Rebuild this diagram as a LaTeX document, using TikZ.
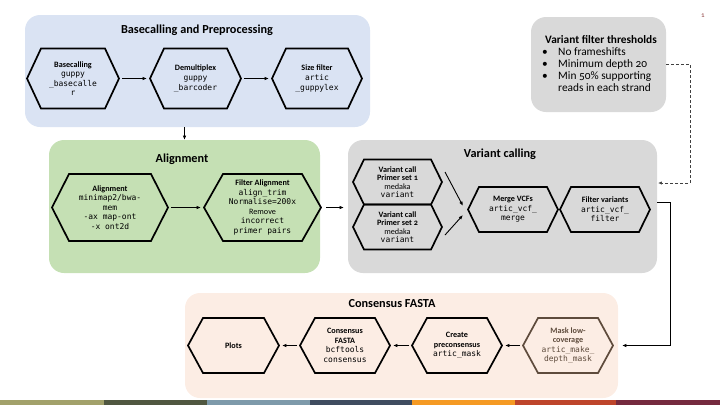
\documentclass[tikz,border=0pt]{standalone}
\usepackage{fontspec}
\setmainfont{Carlito}[Numbers=OldStyle]
\setmonofont{DejaVu Sans Mono}
\usetikzlibrary{arrows.meta,calc}
\definecolor{bluebg}{HTML}{DAE3F3}
\definecolor{greenbg}{HTML}{C5E0B4}
\definecolor{greybg}{HTML}{D9D9D9}
\definecolor{peachbg}{HTML}{FCEDE4}
\definecolor{maskline}{HTML}{5E4B3C}
\definecolor{pagenum}{HTML}{8C3B3B}
\definecolor{sa}{RGB}{162,161,106}
\definecolor{sb}{RGB}{80,87,64}
\definecolor{sc}{RGB}{126,154,170}
\definecolor{sd}{RGB}{63,76,96}
\definecolor{se}{RGB}{245,154,35}
\definecolor{sf}{RGB}{190,69,43}
\definecolor{sg}{RGB}{117,42,62}
\newcommand\hb[1]{{\bfseries #1}}
\newcommand\cdx[1]{{\fontsize{8}{9.5}\selectfont\ttfamily #1}}
\tikzset{
  hexcol/.store in=\hexcol, hexcol=black,
  hexfont/.store in=\hexfontcmd, hexfont=\fontsize{8.2}{9.6}\selectfont,
  panel/.style={rectangle, rounded corners=15bp, draw=none, inner sep=0pt, outer sep=0pt, anchor=north west},
  hexbox/.style={rectangle, draw=none, inner sep=0pt, outer sep=0pt, align=center, font=\hexfontcmd},
  hexline/.style={line width=1.7pt, line join=miter},
  arr/.style={line width=0.9pt, -{Latex[length=4.5pt,width=3.6pt]}, shorten <=3bp, shorten >=3bp},
  dasharr/.style={line width=0.7pt, densely dashed, draw=black!75, -{Latex[length=4pt,width=3.4pt]}},
  paneltitle/.style={anchor=base, inner sep=0pt, font=\fontsize{12.3}{14}\selectfont\bfseries},
  thtxt/.style={anchor=base west, inner sep=0pt, font=\fontsize{11.4}{12}\selectfont},
}
\newcommand\hexnode[7][]{%
  \begin{scope}[#1]
  \node[hexbox,minimum width=#4,minimum height=#5] (#2) at (#3) {#7};
  \draw[hexline,draw=\hexcol] (#2.west) -- ([xshift=#6]#2.north west) -- ([xshift=-#6]#2.north east) -- (#2.east) -- ([xshift=-#6]#2.south east) -- ([xshift=#6]#2.south west) -- cycle;
  \end{scope}}
\begin{document}
\begin{tikzpicture}[x=1bp,y=-1bp]
\useasboundingbox (0,0) rectangle (720,405);
% panels
\node[panel, fill=bluebg, minimum width=345bp, minimum height=112bp] (bp) at (25,15) {};
\node[panel, fill=greenbg, minimum width=271bp, minimum height=133bp] (al) at (49,140) {};
\node[panel, fill=greybg, minimum width=309bp, minimum height=133bp] (vc) at (348,140) {};
\node[panel, fill=greybg, minimum width=135bp, minimum height=95bp] (th) at (531,17) {};
\node[panel, fill=peachbg, minimum width=433bp, minimum height=105bp] (cs) at (185,293) {};
% titles
\node[paneltitle] (t1) at (197,33) {Basecalling and Preprocessing};
\node[paneltitle] (t2) at (182,162) {Alignment};
\node[paneltitle] (t3) at (500,157) {Variant calling};
\node[paneltitle] (t4) at (392,307) {Consensus FASTA};
% thresholds
\node[thtxt, font=\fontsize{11.4}{12}\selectfont\bfseries] (tht) at (545,43.5) {Variant filter thresholds};
\node[thtxt] (tb1) at (542,55.5) {•};
\node[thtxt] (tb2) at (542,67.5) {•};
\node[thtxt] (tb3) at (542,79.5) {•};
\node[thtxt] (tl1) at (558,55.5) {No frameshifts};
\node[thtxt] (tl2) at (558,67.5) {Minimum depth 20};
\node[thtxt] (tl3) at (558,79.5) {Min 50\% supporting};
\node[thtxt] (tl4) at (558,91.5) {reads in each strand};
\node[anchor=base, inner sep=0pt, font=\fontsize{7}{8}\selectfont, text=pagenum] (pg) at (703,17) {1};
% hexes: basecalling
\hexnode{B1}{73,78.5}{92bp}{60bp}{14bp}{\hb{Basecalling}\\\cdx{guppy}\\\cdx{\_basecalle}\\\cdx{r}}
\hexnode{B2}{195.5,78.5}{91bp}{60bp}{14bp}{\hb{Demultiplex}\\\cdx{guppy}\\\cdx{\_barcoder}}
\hexnode{B3}{317,78.5}{90bp}{60bp}{14bp}{\hb{Size filter}\\\cdx{artic}\\\cdx{\_guppylex}}
% alignment
\hexnode{A1}{110,207.5}{116bp}{67bp}{17bp}{\hb{Alignment}\\\cdx{minimap2/bwa-}\\\cdx{mem}\\\cdx{-ax map-ont}\\\cdx{-x ont2d}}
\hexnode{A2}{262.5,207.5}{117bp}{67bp}{19bp}{\hb{Filter Alignment}\\\cdx{align\_trim}\\\cdx{Normalise=200x}\\Remove\\\cdx{incorrect}\\\cdx{primer pairs}}
% variant calling
\hexnode[hexfont=\fontsize{8.2}{8.5}\selectfont]{VC1}{397.5,182}{89bp}{45bp}{11bp}{\hb{Variant call}\\\hb{Primer set 1}\\medaka\\\cdx{variant}}
\hexnode[hexfont=\fontsize{8.2}{8.5}\selectfont]{VC2}{397.5,227}{89bp}{45bp}{11bp}{\hb{Variant call}\\\hb{Primer set 2}\\medaka\\\cdx{variant}}
\hexnode{M}{513,209.5}{90bp}{45bp}{11bp}{\hb{Merge VCFs}\\\cdx{artic\_vcf\_}\\\cdx{merge}}
\hexnode{F}{605,209.5}{90bp}{45bp}{11bp}{\hb{Filter variants}\\\cdx{artic\_vcf\_}\\\cdx{filter}}
% consensus
\hexnode{P}{233.5,345.5}{91bp}{55bp}{15bp}{\hb{Plots}}
\hexnode{CF}{345,345.5}{90bp}{55bp}{15bp}{\hb{Consensus}\\\hb{FASTA}\\\cdx{bcftools}\\\cdx{consensus}}
\hexnode{CP}{457,345.5}{90bp}{55bp}{15bp}{\hb{Create}\\\hb{preconsensus}\\\cdx{artic\_mask}}
\hexnode[hexcol=maskline, text=maskline]{MK}{568,345.5}{90bp}{55bp}{15bp}{\hb{Mask low-}\\\hb{coverage}\\\cdx{artic\_make\_}\\\cdx{depth\_mask}}
% connectors
\draw[arr] (B1.east) -- (B2.west);
\draw[arr] (B2.east) -- (B3.west);
\draw[arr, shorten <=0bp, shorten >=0bp] (bp.south -| al.north) -- (al.north);
\draw[arr] (A1.east) -- (A2.west);
\draw[arr, shorten <=5bp, shorten >=4bp] (A2.east) -- (A2.east -| vc.west);
\draw[arr, shorten <=0bp, shorten >=0bp] ($(VC1.east)+(3,-10)$) -- ($(M.west)+(-5,-3.5)$);
\draw[arr, shorten <=0bp, shorten >=0bp] ($(VC2.east)+(3,8)$) -- ($(M.west)+(-5,5.5)$);
\coordinate (vcin) at ($(vc.east)+(1,-23.5)$);
\coordinate (vcout) at ($(vc.east)+(0,-4.5)$);
\draw[dasharr] (th.east) -- ++(24,0) |- (vcin);
\draw[arr, shorten <=0bp, shorten >=0bp] (vcout) -- ++(13,0) |- ([xshift=9bp]MK.east);
\draw[arr] (MK.west) -- (CP.east);
\draw[arr] (CP.west) -- (CF.east);
\draw[arr] (CF.west) -- (P.east);
% bottom strip
\fill[sa] (0,400) rectangle (104,405);
\fill[sb] (104,400) rectangle (207,405);
\fill[sc] (207,400) rectangle (310,405);
\fill[sd] (310,400) rectangle (412,405);
\fill[se] (412,400) rectangle (515,405);
\fill[sf] (515,400) rectangle (616,405);
\fill[sg] (616,400) rectangle (720,405);
\end{tikzpicture}
\end{document}
